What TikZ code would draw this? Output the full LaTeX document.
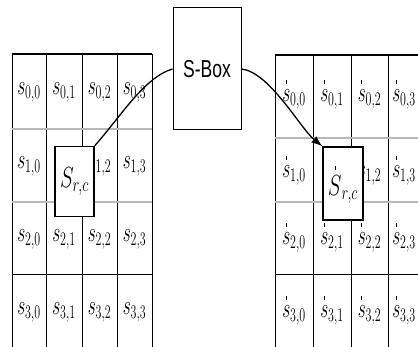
\documentclass[tikz,border=0pt]{standalone}
\usepackage{amsmath}
\usepackage{fontspec}
\newfontfamily\boxfont{Liberation Sans}
\usetikzlibrary{positioning, arrows.meta, calc}
\newcommand{\primed}[1]{\overset{\rule{0.5pt}{2.5pt}}{#1}}

\begin{document}
\begin{tikzpicture}[
    x=1pt, y=-1pt,
    cell/.style={font=\LARGE, inner sep=0pt},
    rcbox/.style={rectangle, draw, line width=1.3pt, fill=white, minimum width=39pt, minimum height=70pt, font=\huge, inner sep=0pt},
    sboxbox/.style={rectangle, draw, line width=1pt, fill=white, minimum width=68pt, minimum height=122pt, font=\boxfont\fontsize{17.5}{20}\selectfont},
    rowline/.style={gray!55, line width=2pt},
    colline/.style={black, line width=0.7pt},
    topline/.style={black, line width=1.6pt}
]
\clip (0,0) rectangle (418,347);

% left state
\foreach \x in {12,46,82,117,152} \draw[colline] (\x,54) -- (\x,347);
\foreach \y in {129,202} \draw[rowline] (12,\y) -- (152,\y);
\draw[colline, line width=1pt] (12,275) -- (152,275);
\draw[topline] (12,54) -- (152,54);
\foreach \r/\yc in {0/92,1/166,2/239,3/312}
  \foreach \c/\xc in {0/29,1/64,2/99.5,3/134.5}{
    \ifnum\r\c=11 \else
    \node[cell] (l\r\c) at (\xc,\yc) {\scalebox{1}[1.6]{$s_{\r,\c}$}};
    \fi}

% right state
\foreach \x in {275,313,351,388,426} \draw[colline] (\x,55) -- (\x,347);
\foreach \y in {138,202} \draw[rowline] (275,\y) -- (426,\y);
\draw[colline, line width=1pt] (275,275) -- (426,275);
\draw[topline] (275,55) -- (426,55);
\foreach \r/\yc in {0/93,1/169,2/236,3/309}
  \foreach \c/\xc in {0/294,1/332,2/369.5,3/404}{
    \ifnum\r\c=11 \else
    \node[cell] (r\r\c) at (\xc,\yc) {\scalebox{1}[1.6]{$\primed{s}_{\r,\c}$}};
    \fi}

% substituted byte
\node[rcbox] (rcl) at (74.5,181.5) {\scalebox{1}[1.4]{$S_{r,c}$}};
\node[rcbox, minimum width=40pt, minimum height=73pt] (rcr) at (343,183.5) {\scalebox{1}[1.4]{$\primed{S}_{r,c}$}};

\node[sboxbox] (sbox) at (207,69) {\scalebox{1}[1.4]{S-Box}};

\draw[line width=1.3pt] (rcl.north east) .. controls +(25,-28) and +(-28,8) .. (sbox.west);
\draw[line width=1.3pt, -{Latex[length=11pt, width=8pt]}] (sbox.east) .. controls +(28,3) and +(-22,-18) .. (rcr.north west);
\end{tikzpicture}
\end{document}
